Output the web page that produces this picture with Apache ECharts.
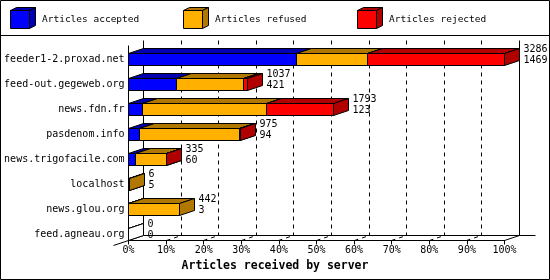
<!DOCTYPE html>
<html><head><meta charset="utf-8">
<script src="https://cdn.jsdelivr.net/npm/echarts@6/dist/echarts.min.js"></script>
<style>html,body{margin:0;padding:0;background:#fff}#c{width:550px;height:280px}</style>
</head><body><div id="c"></div>
<script>
const categories = ['feeder1-2.proxad.net','feed-out.gegeweb.org','news.fdn.fr','pasdenom.info','news.trigofacile.com','localhost','news.glou.org','feed.agneau.org'];
const accepted = [1469, 421, 123, 94, 60, 5, 3, 0];
const refused  = [617, 587, 1080, 876, 270, 1, 439, 0];
const rejected = [1200, 29, 590, 5, 5, 0, 0, 0];
const seriesNames = ['Articles accepted','Articles refused','Articles rejected'];
const xTicks = [0,10,20,30,40,50,60,70,80,90,100];
const xAxisTitle = 'Articles received by server';

const FONT = '"DejaVu Sans Mono", "Liberation Mono", monospace';
const totals = categories.map((_, i) => accepted[i] + refused[i] + rejected[i]);
const maxTotal = Math.max(...totals);
const pct = v => v / maxTotal * 100;
const segs = [accepted, refused, rejected];
const colors = ['#0000ff', '#ffb000', '#ff0000'];
const darks = ['#0000b0', '#b07800', '#b00000'];
const DX = 15, DY = 5, HALF = 6;
const snap = v => Math.round(v - 0.5) + 0.5;
const ST = {stroke: '#000', lineWidth: 1};

function barSeries(k) {
  const data = categories.map((c, i) => {
    let s = 0; for (let j = 0; j < k; j++) s += segs[j][i];
    return [i, pct(s), pct(s + segs[k][i]), totals[i] === 0 ? 1 : 0];
  });
  return {
    type: 'custom', name: seriesNames[k], z: 3 + k, silent: true,
    data, encode: {x: [1, 2], y: 0},
    renderItem(params, api) {
      const cat = api.value(0), s = api.value(1), e = api.value(2), empty = api.value(3);
      if (e <= s && !(k === 0 && empty)) return null;
      const c0 = api.coord([s, cat]);
      const x0 = snap(c0[0]), x1 = snap(api.coord([e, cat])[0]);
      const yc = snap(c0[1]); const yt = yc - HALF, yb = yc + HALF;
      const fill = empty ? '#fff' : colors[k], dk = empty ? '#fff' : darks[k];
      return {type: 'group', children: [
        {type: 'polygon', shape: {points: [[x0, yt], [x0 + DX, yt - DY], [x1 + DX, yt - DY], [x1, yt]]}, style: Object.assign({fill: dk}, ST)},
        {type: 'polygon', shape: {points: [[x1, yt], [x1 + DX, yt - DY], [x1 + DX, yb - DY], [x1, yb]]}, style: Object.assign({fill: dk}, ST)},
        {type: 'rect', shape: {x: x0, y: yt, width: x1 - x0, height: yb - yt}, style: Object.assign({fill: fill}, ST)}
      ]};
    }
  };
}

const frameSeries = {
  type: 'custom', z: 1, silent: true,
  data: xTicks.map(v => [v, 0]), encode: {x: 0, y: 1},
  renderItem(params, api) {
    const v = api.value(0);
    const last = categories.length - 1;
    const fx = snap(api.coord([v, 0])[0]);
    const bx = fx + DX;
    const yFront = snap(api.coord([0, last])[1]) + HALF;
    const yBack = yFront - DY;
    const yTop = snap(api.coord([0, 0])[1]) - HALF - DY - 8;
    const edge = (v === xTicks[0] || v === xTicks[xTicks.length - 1]);
    const ls = edge ? {stroke: '#000', lineWidth: 1} : {stroke: '#000', lineWidth: 1, lineDash: [4, 4]};
    const ch = [
      {type: 'line', shape: {x1: bx, y1: yTop, x2: bx, y2: yBack}, style: ls},
      {type: 'line', shape: {x1: fx, y1: yFront, x2: bx, y2: yBack}, style: ls}
    ];
    if (v === xTicks[0]) {
      const rx = snap(api.coord([xTicks[xTicks.length - 1], 0])[0]) + DX + 16;
      ch.push({type: 'line', shape: {x1: bx, y1: yBack, x2: rx, y2: yBack}, style: ST});
      ch.push({type: 'line', shape: {x1: fx, y1: yTop + DY, x2: fx, y2: yFront}, style: ST});
      ch.push({type: 'line', shape: {x1: fx, y1: yFront, x2: fx - DX, y2: yFront + DY}, style: ST});
    }
    return {type: 'group', children: ch};
  }
};

const labelSeries = {
  type: 'custom', z: 10, silent: true,
  data: categories.map((c, i) => [i, pct(totals[i]), totals[i], accepted[i]]),
  encode: {x: 1, y: 0},
  renderItem(params, api) {
    const p = api.coord([api.value(1), api.value(0)]);
    return {type: 'text', x: snap(p[0]) + DX + 4, y: p[1] - 4.5,
      style: {text: api.value(2) + '\n' + api.value(3), fill: '#000', font: '10px ' + FONT,
        align: 'left', verticalAlign: 'middle', lineHeight: 11}};
  }
};

const legendX = [10, 183, 357];
const legendGraphics = [];
seriesNames.forEach((n, k) => {
  const x = legendX[k] + 0.5, y = 10.5, w = 19, h = 18, dx = 6, dy = 3;
  legendGraphics.push({type: 'polygon', shape: {points: [[x, y], [x + dx, y - dy], [x + w + dx, y - dy], [x + w, y]]}, style: Object.assign({fill: darks[k]}, ST)});
  legendGraphics.push({type: 'polygon', shape: {points: [[x + w, y], [x + w + dx, y - dy], [x + w + dx, y + h - dy], [x + w, y + h]]}, style: Object.assign({fill: darks[k]}, ST)});
  legendGraphics.push({type: 'rect', shape: {x: x, y: y, width: w, height: h}, style: Object.assign({fill: colors[k]}, ST)});
  legendGraphics.push({type: 'text', x: legendX[k] + 32, y: 20, style: {text: n, fill: '#000', font: '9.5px ' + FONT, verticalAlign: 'middle'}});
});

const chart = echarts.init(document.getElementById('c'), null, {renderer: 'canvas'});
chart.setOption({
  animation: false,
  backgroundColor: '#fff',
  textStyle: {fontFamily: FONT},
  title: {text: xAxisTitle, left: 'center', top: 260, padding: 0,
    textStyle: {fontSize: 11.5, fontWeight: 'bold', fontFamily: FONT, color: '#000'}},
  grid: {left: 128.5, right: 45.5, top: 59.5, bottom: 45.5, containLabel: false, outerBoundsMode: 'none'},
  xAxis: {type: 'value', min: 0, max: 100, interval: 10, offset: 6,
    axisLine: {show: true, lineStyle: {color: '#000', width: 1}},
    axisTick: {show: true, length: 4, lineStyle: {color: '#000'}},
    axisLabel: {formatter: '{value}%', color: '#000', fontSize: 10, fontFamily: FONT, margin: 5},
    splitLine: {show: false}},
  yAxis: {type: 'category', data: categories, inverse: true, boundaryGap: false,
    axisLine: {show: false}, axisTick: {show: false}, splitLine: {show: false},
    axisLabel: {interval: 0, margin: 4, color: '#000', fontSize: 10, fontFamily: FONT}},
  graphic: [
    {type: 'rect', shape: {x: 0.5, y: 0.5, width: 549, height: 279}, style: {fill: 'none', stroke: '#000', lineWidth: 1}, z: 100},
    {type: 'line', shape: {x1: 0, y1: 35.5, x2: 550, y2: 35.5}, style: ST, z: 100}
  ].concat(legendGraphics),
  series: [frameSeries, barSeries(0), barSeries(1), barSeries(2), labelSeries]
});
</script>
</body></html>
